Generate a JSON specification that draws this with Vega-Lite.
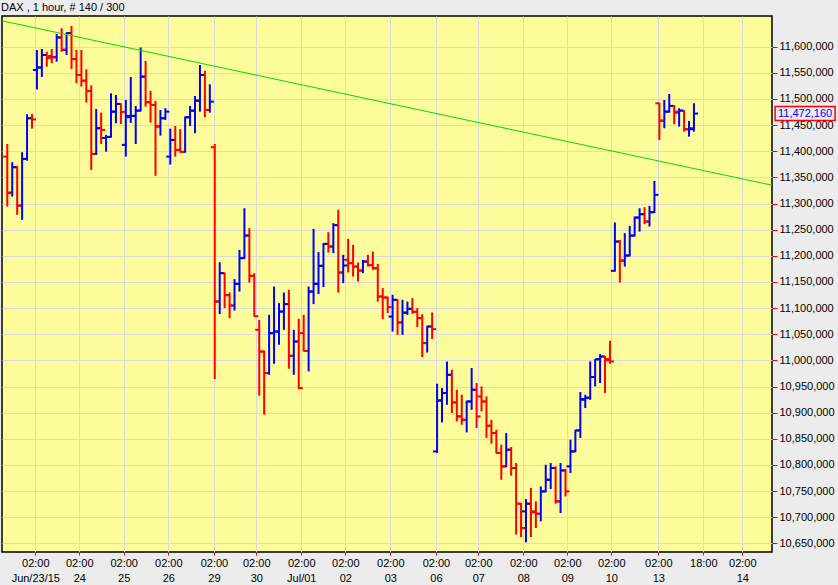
{
"$schema": "https://vega.github.io/schema/vega-lite/v6.json",
"width": 770, "height": 536,
"autosize": "none",
"padding": {"left": 2, "top": 16, "right": 66, "bottom": 33},
"background": "#ececec",
"title": {"text": "DAX , 1 hour, # 140 / 300", "anchor": "start", "fontSize": 11, "fontWeight": "normal", "font": "Liberation Sans", "color": "#000000", "offset": 3, "dx": 1},
"config": {"view": {"fill": "#fcfc9a", "stroke": "#000000", "strokeWidth": 1.5}, "font": "Liberation Sans",
  "locale": {"number": {"decimal": ",", "thousands": ",", "grouping": [3], "currency": ["", ""]}}},
"datasets": {
"bars": [
{"i":0,"o":11389.8,"h":11414.0,"l":11294.2,"c":11319.8},
{"i":1,"o":11321.0,"h":11379.1,"l":11313.3,"c":11369.5},
{"i":2,"o":11369.5,"h":11372.0,"l":11278.3,"c":11296.1},
{"i":3,"o":11296.1,"h":11398.2,"l":11268.8,"c":11385.4},
{"i":4,"o":11385.4,"h":11470.8,"l":11382.0,"c":11463.2},
{"i":5,"o":11463.2,"h":11471.4,"l":11443.3,"c":11460.9},
{"i":6,"o":11555.5,"h":11593.7,"l":11518.2,"c":11560.2},
{"i":7,"o":11560.2,"h":11595.6,"l":11542.1,"c":11584.1},
{"i":8,"o":11584.1,"h":11590.4,"l":11561.8,"c":11578.4},
{"i":9,"o":11582.2,"h":11595.6,"l":11568.3,"c":11579.4},
{"i":10,"o":11580.3,"h":11624.3,"l":11571.3,"c":11617.6},
{"i":11,"o":11617.6,"h":11635.2,"l":11590.4,"c":11594.7},
{"i":12,"o":11593.7,"h":11627.2,"l":11584.1,"c":11626.2},
{"i":13,"o":11626.2,"h":11639.6,"l":11557.4,"c":11576.5},
{"i":14,"o":11576.5,"h":11593.7,"l":11530.1,"c":11545.9},
{"i":15,"o":11545.9,"h":11593.7,"l":11523.6,"c":11535.0},
{"i":16,"o":11535.0,"h":11556.8,"l":11493.0,"c":11515.3},
{"i":17,"o":11515.3,"h":11526.2,"l":11364.3,"c":11394.9},
{"i":18,"o":11394.9,"h":11480.9,"l":11393.0,"c":11444.1},
{"i":19,"o":11444.1,"h":11473.9,"l":11414.0,"c":11440.8},
{"i":20,"o":11425.5,"h":11431.2,"l":11399.3,"c":11427.4},
{"i":21,"o":11427.4,"h":11510.9,"l":11426.0,"c":11475.8},
{"i":22,"o":11475.8,"h":11507.7,"l":11453.6,"c":11490.5},
{"i":23,"o":11490.5,"h":11492.0,"l":11452.3,"c":11475.2},
{"i":24,"o":11412.2,"h":11498.1,"l":11389.8,"c":11467.6},
{"i":25,"o":11465.1,"h":11542.1,"l":11454.2,"c":11467.6},
{"i":26,"o":11467.6,"h":11486.7,"l":11414.0,"c":11477.7},
{"i":27,"o":11477.7,"h":11598.5,"l":11476.0,"c":11542.7},
{"i":28,"o":11542.7,"h":11572.7,"l":11485.3,"c":11493.8},
{"i":29,"o":11493.8,"h":11515.3,"l":11454.8,"c":11488.6},
{"i":30,"o":11488.6,"h":11496.2,"l":11352.9,"c":11447.5},
{"i":31,"o":11447.5,"h":11479.0,"l":11429.9,"c":11463.2},
{"i":32,"o":11463.2,"h":11482.3,"l":11459.9,"c":11475.8},
{"i":33,"o":11389.8,"h":11443.3,"l":11374.5,"c":11421.7},
{"i":34,"o":11421.7,"h":11448.4,"l":11389.8,"c":11402.6},
{"i":35,"o":11402.6,"h":11442.1,"l":11397.4,"c":11398.8},
{"i":36,"o":11398.8,"h":11466.2,"l":11397.4,"c":11465.1},
{"i":37,"o":11465.1,"h":11486.7,"l":11448.4,"c":11477.7},
{"i":38,"o":11477.7,"h":11505.8,"l":11434.5,"c":11496.8},
{"i":39,"o":11496.8,"h":11565.0,"l":11475.8,"c":11545.9},
{"i":40,"o":11545.9,"h":11554.1,"l":11465.1,"c":11479.0},
{"i":41,"o":11479.0,"h":11528.1,"l":11473.9,"c":11494.9},
{"i":42,"o":11407.7,"h":11414.0,"l":10964.3,"c":11112.6},
{"i":43,"o":11112.6,"h":11187.9,"l":11088.5,"c":11166.9},
{"i":44,"o":11166.9,"h":11168.0,"l":11100.0,"c":11124.9},
{"i":45,"o":11124.9,"h":11129.8,"l":11080.9,"c":11105.0},
{"i":46,"o":11105.0,"h":11155.5,"l":11095.4,"c":11146.5},
{"i":47,"o":11146.5,"h":11211.4,"l":11131.7,"c":11195.6},
{"i":48,"o":11195.6,"h":11291.1,"l":11194.0,"c":11238.8},
{"i":49,"o":11238.8,"h":11252.9,"l":11148.9,"c":11161.7},
{"i":50,"o":11161.7,"h":11166.9,"l":11083.5,"c":11084.5},
{"i":51,"o":11058.5,"h":11077.6,"l":10932.4,"c":11017.0},
{"i":52,"o":11017.0,"h":11018.9,"l":10896.1,"c":10975.8},
{"i":53,"o":10975.8,"h":11087.2,"l":10972.5,"c":11052.2},
{"i":54,"o":11052.2,"h":11141.3,"l":10993.6,"c":11055.3},
{"i":55,"o":11055.3,"h":11109.6,"l":11029.9,"c":11093.5},
{"i":56,"o":11093.5,"h":11129.8,"l":11058.5,"c":11107.7},
{"i":57,"o":11107.7,"h":11135.0,"l":10984.0,"c":11008.9},
{"i":58,"o":11008.9,"h":11058.5,"l":10972.5,"c":11036.2},
{"i":59,"o":11036.2,"h":11079.6,"l":10945.2,"c":10947.0},
{"i":60,"o":11052.2,"h":11087.2,"l":11017.0,"c":11018.0},
{"i":61,"o":11018.0,"h":11141.3,"l":10978.9,"c":11131.7},
{"i":62,"o":11131.7,"h":11251.6,"l":11107.7,"c":11146.5},
{"i":63,"o":11146.5,"h":11207.1,"l":11126.8,"c":11180.9},
{"i":64,"o":11180.9,"h":11224.3,"l":11140.2,"c":11222.9},
{"i":65,"o":11222.9,"h":11245.3,"l":11206.3,"c":11217.8},
{"i":66,"o":11217.8,"h":11262.5,"l":11205.1,"c":11258.7},
{"i":67,"o":11258.7,"h":11287.9,"l":11129.8,"c":11168.1},
{"i":68,"o":11168.1,"h":11201.9,"l":11147.8,"c":11181.5},
{"i":69,"o":11192.4,"h":11232.5,"l":11168.1,"c":11186.0},
{"i":70,"o":11186.0,"h":11221.0,"l":11160.4,"c":11179.5},
{"i":71,"o":11179.5,"h":11187.2,"l":11150.9,"c":11171.9},
{"i":72,"o":11171.9,"h":11192.4,"l":11166.9,"c":11189.1},
{"i":73,"o":11189.1,"h":11201.9,"l":11179.5,"c":11182.2},
{"i":74,"o":11182.2,"h":11208.2,"l":11173.2,"c":11176.4},
{"i":75,"o":11176.4,"h":11184.7,"l":11112.6,"c":11122.2},
{"i":76,"o":11122.2,"h":11138.2,"l":11079.0,"c":11120.3},
{"i":77,"o":11120.3,"h":11122.2,"l":11090.4,"c":11101.9},
{"i":78,"o":11083.9,"h":11125.5,"l":11055.3,"c":11115.9},
{"i":79,"o":11115.9,"h":11117.0,"l":11049.0,"c":11072.5},
{"i":80,"o":11072.5,"h":11115.9,"l":11049.0,"c":11091.6},
{"i":81,"o":11091.0,"h":11112.6,"l":11087.2,"c":11098.7},
{"i":82,"o":11098.7,"h":11119.1,"l":11089.1,"c":11092.9},
{"i":83,"o":11092.9,"h":11100.0,"l":11063.7,"c":11080.9},
{"i":84,"o":11080.9,"h":11088.5,"l":11006.4,"c":11033.2},
{"i":85,"o":11033.2,"h":11066.2,"l":11015.1,"c":11064.9},
{"i":86,"o":11064.9,"h":11091.6,"l":11040.7,"c":11059.9},
{"i":87,"o":10826.0,"h":10955.3,"l":10822.9,"c":10923.4},
{"i":88,"o":10923.4,"h":10947.1,"l":10881.4,"c":10937.6},
{"i":89,"o":10937.6,"h":10998.0,"l":10915.2,"c":10972.5},
{"i":90,"o":10972.5,"h":10982.1,"l":10899.4,"c":10919.6},
{"i":91,"o":10919.6,"h":10943.9,"l":10883.3,"c":10892.9},
{"i":92,"o":10892.9,"h":10934.3,"l":10877.0,"c":10886.5},
{"i":93,"o":10886.5,"h":10923.0,"l":10862.3,"c":10921.5},
{"i":94,"o":10921.5,"h":10985.4,"l":10905.6,"c":10943.9},
{"i":95,"o":10943.9,"h":10956.7,"l":10870.7,"c":10892.9},
{"i":96,"o":10931.1,"h":10950.2,"l":10902.4,"c":10921.5},
{"i":97,"o":10921.5,"h":10931.1,"l":10851.6,"c":10875.1},
{"i":98,"o":10875.1,"h":10886.5,"l":10840.7,"c":10861.1},
{"i":99,"o":10861.1,"h":10867.4,"l":10822.0,"c":10822.9},
{"i":100,"o":10822.9,"h":10838.8,"l":10771.8,"c":10797.3},
{"i":101,"o":10797.3,"h":10861.1,"l":10796.0,"c":10829.2},
{"i":102,"o":10829.2,"h":10834.3,"l":10779.5,"c":10794.2},
{"i":103,"o":10794.2,"h":10803.7,"l":10666.8,"c":10726.0},
{"i":104,"o":10726.0,"h":10727.3,"l":10662.3,"c":10679.5},
{"i":105,"o":10711.3,"h":10734.9,"l":10652.0,"c":10726.0},
{"i":106,"o":10726.0,"h":10756.0,"l":10662.3,"c":10709.3},
{"i":107,"o":10711.3,"h":10730.4,"l":10679.5,"c":10706.8},
{"i":108,"o":10706.8,"h":10759.0,"l":10692.1,"c":10749.5},
{"i":109,"o":10749.5,"h":10800.5,"l":10748.0,"c":10771.8},
{"i":110,"o":10771.8,"h":10803.7,"l":10754.1,"c":10794.2},
{"i":111,"o":10794.2,"h":10797.3,"l":10726.0,"c":10730.4},
{"i":112,"o":10730.4,"h":10803.7,"l":10708.2,"c":10789.6},
{"i":113,"o":10789.6,"h":10792.3,"l":10739.9,"c":10749.5},
{"i":114,"o":10797.3,"h":10848.3,"l":10784.6,"c":10826.0},
{"i":115,"o":10826.0,"h":10867.4,"l":10824.5,"c":10866.1},
{"i":116,"o":10866.1,"h":10939.5,"l":10851.6,"c":10926.1},
{"i":117,"o":10924.7,"h":10934.3,"l":10908.9,"c":10928.6},
{"i":118,"o":10928.6,"h":10998.0,"l":10924.7,"c":10968.2},
{"i":119,"o":10968.2,"h":11002.6,"l":10950.2,"c":11002.2},
{"i":120,"o":11002.2,"h":11012.1,"l":10956.7,"c":11007.5},
{"i":121,"o":11007.5,"h":11008.5,"l":10937.6,"c":11000.2},
{"i":122,"o":11002.6,"h":11037.5,"l":10993.6,"c":10998.0},
{"i":123,"o":11171.3,"h":11263.7,"l":11169.9,"c":11227.3},
{"i":124,"o":11227.3,"h":11230.5,"l":11148.9,"c":11191.0},
{"i":125,"o":11191.0,"h":11243.4,"l":11179.5,"c":11200.6},
{"i":126,"o":11200.6,"h":11257.3,"l":11199.0,"c":11238.8},
{"i":127,"o":11238.8,"h":11275.1,"l":11236.9,"c":11273.2},
{"i":128,"o":11273.2,"h":11291.1,"l":11246.4,"c":11279.7},
{"i":129,"o":11279.7,"h":11293.1,"l":11260.6,"c":11265.6},
{"i":130,"o":11265.6,"h":11295.6,"l":11256.0,"c":11283.5},
{"i":131,"o":11283.5,"h":11343.3,"l":11282.0,"c":11316.6},
{"i":132,"o":11491.8,"h":11492.5,"l":11421.7,"c":11458.6},
{"i":133,"o":11458.6,"h":11498.1,"l":11444.1,"c":11475.8},
{"i":134,"o":11475.8,"h":11509.6,"l":11473.9,"c":11486.7},
{"i":135,"o":11486.7,"h":11488.6,"l":11451.7,"c":11475.8},
{"i":136,"o":11473.9,"h":11482.3,"l":11447.1,"c":11477.7},
{"i":137,"o":11477.7,"h":11478.5,"l":11437.6,"c":11442.2},
{"i":138,"o":11442.0,"h":11458.0,"l":11428.0,"c":11444.0},
{"i":139,"o":11442.2,"h":11491.8,"l":11437.6,"c":11472.16}
],
"trend": [{"i": -1.07, "p": 11649.5}, {"i": 154.8, "p": 11335.1}]
},
"layer": [
{
 "data": {"name": "bars"},
 "mark": {"type": "rule", "strokeWidth": 2},
 "encoding": {
  "x": {"field": "i", "type": "quantitative", "title": null,
    "scale": {"domain": [-1.07, 154.8], "nice": false, "zero": false},
    "axis": {"values": [5.67,14.57,23.56,32.59,41.84,50.4,59.51,68.42,77.53,86.78,95.34,104.45,113.36,122.27,131.78,140.89,148.79],
      "tickCount": 40,
      "labelExpr": "[['02:00','Jun/23/15'],['02:00','24'],['02:00','25'],['02:00','26'],['02:00','29'],['02:00','30'],['02:00','Jul/01'],['02:00','02'],['02:00','03'],['02:00','06'],['02:00','07'],['02:00','08'],['02:00','09'],['02:00','10'],['02:00','13'],['18:00',''],['02:00','14']][indexof([5.67,14.57,23.56,32.59,41.84,50.4,59.51,68.42,77.53,86.78,95.34,104.45,113.36,122.27,131.78,140.89,148.79], datum.value)]",
      "grid": true, "gridColor": "#d8d8df", "gridWidth": 1, "domain": false,
      "tickColor": "#ff0000", "tickSize": 3, "tickWidth": 1,
      "labelFont": "Liberation Sans", "labelFontSize": 11, "labelColor": "#000000",
      "labelPadding": 2, "labelLineHeight": 15, "labelFlush": false, "labelOverlap": false, "labelBound": false}},
  "y": {"field": "l", "type": "quantitative", "title": null,
    "scale": {"domain": [10633.6, 11658.7], "nice": false, "zero": false},
    "axis": {"orient": "right", "values": [10650,10700,10750,10800,10850,10900,10950,11000,11050,11100,11150,11200,11250,11300,11350,11400,11450,11500,11550,11600],
      "tickCount": 40,
      "labelExpr": "replace(format(datum.value, ',.3f'), '.', ',')",
      "grid": true, "gridColor": "#d8d8df", "gridWidth": 1, "domain": false,
      "tickColor": "#ff0000", "tickSize": 5, "tickWidth": 1,
      "labelFont": "Liberation Sans", "labelFontSize": 11, "labelColor": "#000000",
      "labelPadding": 2, "labelFlush": false, "labelOverlap": false, "labelBound": false}},
  "y2": {"field": "h"},
  "color": {"condition": {"test": "datum.c >= datum.o", "value": "#0000ff"}, "value": "#ff0000"}
 }
},
{
 "data": {"name": "bars"},
 "mark": {"type": "rule", "strokeWidth": 2, "xOffset": -4, "x2Offset": 0},
 "encoding": {
  "x": {"field": "i", "type": "quantitative", "title": null, "scale": {"domain": [-1.07, 154.8], "nice": false, "zero": false}},
  "x2": {"field": "i"},
  "y": {"field": "o", "type": "quantitative", "title": null, "scale": {"domain": [10633.6, 11658.7], "nice": false, "zero": false}},
  "color": {"condition": {"test": "datum.c >= datum.o", "value": "#0000ff"}, "value": "#ff0000"}
 }
},
{
 "data": {"name": "bars"},
 "mark": {"type": "rule", "strokeWidth": 2, "xOffset": 0, "x2Offset": 4},
 "encoding": {
  "x": {"field": "i", "type": "quantitative", "title": null, "scale": {"domain": [-1.07, 154.8], "nice": false, "zero": false}},
  "x2": {"field": "i"},
  "y": {"field": "c", "type": "quantitative", "title": null, "scale": {"domain": [10633.6, 11658.7], "nice": false, "zero": false}},
  "color": {"condition": {"test": "datum.c >= datum.o", "value": "#0000ff"}, "value": "#ff0000"}
 }
},
{
 "data": {"name": "trend"},
 "mark": {"type": "line", "color": "#00dd00", "strokeWidth": 1},
 "encoding": {
  "x": {"field": "i", "type": "quantitative", "title": null, "scale": {"domain": [-1.07, 154.8], "nice": false, "zero": false}},
  "y": {"field": "p", "type": "quantitative", "title": null, "scale": {"domain": [10633.6, 11658.7], "nice": false, "zero": false}}
 }
},
{
 "data": {"name": "bars"},
 "transform": [{"filter": "datum.i == 139"}],
 "mark": {"type": "point", "shape": "M-1,-0.2333H1V0.2333H-1Z", "filled": false, "stroke": "#ff0000", "strokeWidth": 1.5, "size": 3600, "opacity": 1},
 "encoding": {
  "x": {"datum": 161.5, "type": "quantitative", "scale": {"domain": [-1.07, 154.8], "nice": false, "zero": false}},
  "y": {"field": "c", "type": "quantitative", "title": null, "scale": {"domain": [10633.6, 11658.7], "nice": false, "zero": false}}
 }
},
{
 "data": {"name": "bars"},
 "transform": [{"filter": "datum.i == 139"}],
 "mark": {"type": "text", "color": "#0000ff", "fontSize": 11, "font": "Liberation Sans", "align": "center", "baseline": "middle"},
 "encoding": {
  "x": {"datum": 161.5, "type": "quantitative", "scale": {"domain": [-1.07, 154.8], "nice": false, "zero": false}},
  "y": {"field": "c", "type": "quantitative", "title": null, "scale": {"domain": [10633.6, 11658.7], "nice": false, "zero": false}},
  "text": {"field": "c", "type": "quantitative", "format": ",.3f"}
 }
}
]
}
